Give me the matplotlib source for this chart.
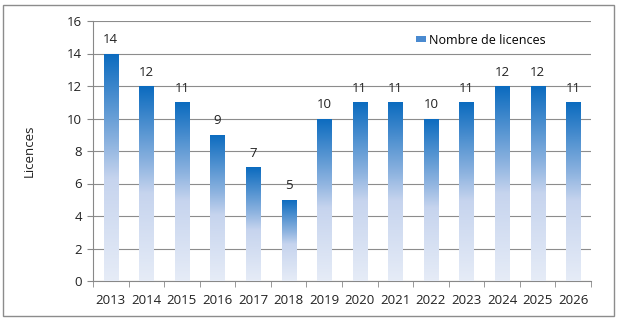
import matplotlib
matplotlib.use("Agg")
import matplotlib.pyplot as plt
import numpy as np
from matplotlib.colors import LinearSegmentedColormap
from matplotlib.patches import Rectangle, Patch

years = ["2013", "2014", "2015", "2016", "2017", "2018", "2019",
         "2020", "2021", "2022", "2023", "2024", "2025", "2026"]
licences = [14, 12, 11, 9, 7, 5, 10, 11, 11, 10, 11, 12, 12, 11]

plt.rcParams['font.family'] = ['Open Sans', 'DejaVu Sans']

fig = plt.figure(figsize=(6.17, 3.22), dpi=100)
ax = fig.add_axes([93/617, 1-281/322, (591-93)/617, (281-21)/322])

cmap = LinearSegmentedColormap.from_list(
    "grad", [(0.0, "#e6ecf7"), (0.45, "#c6d4ee"), (0.6, "#8fb4e0"), (1.0, "#0b6bbf")])
grad = np.linspace(0, 1, 256).reshape(-1, 1)

x = np.arange(len(years))
w = 0.4
bars = ax.bar(x, licences, width=w, color="none", edgecolor="none", zorder=3)
for xi, v, b in zip(x, licences, bars):
    im = ax.imshow(grad, cmap=cmap, origin="lower", aspect="auto",
                   extent=(xi - w/2, xi + w/2, 0, v), zorder=3)
    im.set_clip_path(b)
    ax.text(xi, v + 0.45, str(v), ha="center", va="bottom", fontsize=9.5, color="#222222")

ax.set_xlim(-0.5, len(years) - 0.5)
ax.set_ylim(0, 16)
ax.set_yticks(range(0, 17, 2))
ax.set_xticks(x)
ax.set_xticklabels(years)
ax.set_xticks(np.arange(-0.5, len(years), 1), minor=True)
ax.tick_params(axis="x", which="major", length=0, labelsize=9.5, pad=9, colors="#222222")
ax.tick_params(axis="x", which="minor", length=4, color="#888888")
ax.tick_params(axis="y", length=4, color="#888888", labelsize=9.5, colors="#222222", pad=4)
ax.grid(axis="y", color="#8c8c8c", linewidth=0.8, zorder=0)
ax.set_axisbelow(True)
for s in ["top", "right"]:
    ax.spines[s].set_visible(False)
for s in ["left", "bottom"]:
    ax.spines[s].set_color("#888888")
    ax.spines[s].set_linewidth(0.8)
ax.set_ylabel("Licences", fontsize=9.5, color="#222222", labelpad=22)

leg_handle = Patch(facecolor="#4a8ad0", edgecolor="none")
ax.legend([leg_handle], ["Nombre de licences"], loc="center left",
          bbox_to_anchor=((416-93)/498, 1-(40-21)/260), frameon=False, fontsize=9,
          handlelength=0.8, handleheight=0.35, handletextpad=0.25,
          borderpad=0, borderaxespad=0)

fig.patches.append(Rectangle((3/617, 1-316/322), 611/617, 311/322,
                             transform=fig.transFigure, fill=False,
                             edgecolor="#8c8c8c", linewidth=1))

fig.savefig("out.png", dpi=100)
